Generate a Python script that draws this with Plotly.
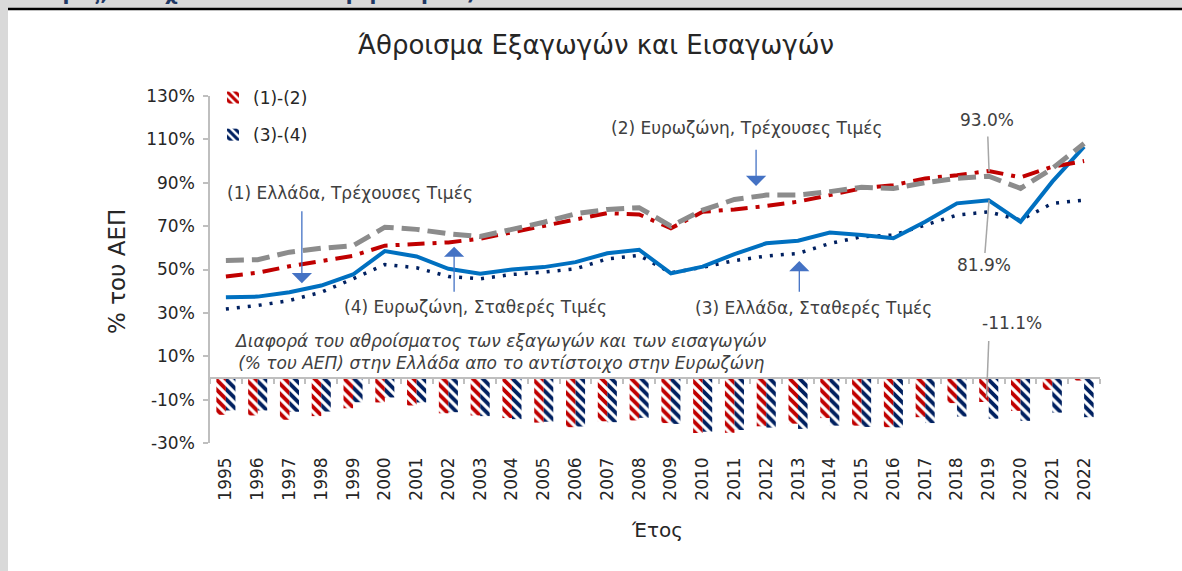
import plotly.graph_objects as go

W, H = 1182, 571

years = list(range(1995, 2023))
year_labels = [str(y) for y in years]

# (1) Greece, current prices (% of GDP)
greece_current = [37.2, 37.5, 39.5, 42.6, 47.7, 58.5, 56.0, 50.3, 48.0, 50.0, 51.1, 53.4, 57.5, 59.1,
                  48.2, 51.3, 57.1, 62.1, 63.3, 67.0, 65.9, 64.4, 72.0, 80.5, 81.9, 72.0, 90.5, 106.6]
# (2) Euro area, current prices
euro_current = [54.2, 54.5, 58.0, 59.8, 61.0, 69.5, 68.5, 66.5, 65.2, 68.3, 71.8, 75.7, 77.7, 78.5,
                70.0, 77.4, 82.3, 84.3, 84.3, 85.9, 87.9, 87.4, 90.0, 92.0, 93.0, 87.4, 96.6, 108.1]
# (3) Greece, constant prices
greece_constant = [31.8, 33.4, 35.7, 39.5, 45.7, 52.3, 50.8, 46.8, 45.7, 47.7, 48.8, 50.3, 54.9, 56.5,
                   48.5, 51.0, 54.1, 56.2, 57.4, 62.0, 65.1, 65.9, 70.5, 75.1, 76.6, 72.8, 80.5, 82.0]
# (4) Euro area, constant prices
euro_constant = [46.8, 48.5, 51.5, 54.0, 56.3, 61.0, 61.8, 62.5, 64.2, 67.2, 70.3, 73.4, 76.0, 75.4,
                 69.0, 76.6, 77.7, 79.3, 81.3, 84.3, 87.4, 88.9, 92.0, 93.5, 95.4, 92.5, 97.4, 100.0]
# (1)-(2)
diff_12 = [-17.0, -17.3, -19.3, -17.6, -14.0, -11.3, -12.7, -16.3, -17.3, -18.5, -20.6, -22.7, -20.0, -19.6,
           -20.8, -25.4, -25.3, -22.3, -21.1, -18.5, -22.0, -22.7, -18.1, -11.6, -11.1, -15.2, -5.5, -1.2]
# (3)-(4)
diff_34 = [-15.0, -15.0, -15.6, -15.5, -11.2, -9.0, -11.3, -15.8, -17.6, -19.0, -20.2, -22.4, -20.4, -18.4,
           -21.2, -24.8, -24.0, -22.9, -23.5, -22.0, -22.6, -22.8, -20.8, -17.8, -18.8, -19.8, -16.0, -18.1]

bar_names = ["(1)-(2)", "(3)-(4)"]
callouts = ["93.0%", "81.9%", "-11.1%"]
y_ticks = [-30, -10, 10, 30, 50, 70, 90, 110, 130]
y_tick_labels = [f"{v}%" for v in y_ticks]

FONT = "DejaVu Sans"
TXT = "#404040"


def px(x):
    return x / W


def py(y):
    return 1 - y / H


fig = go.Figure()

fig.add_trace(go.Bar(
    x=years, y=diff_12, name=bar_names[0], legendgroup="a",
    marker=dict(color="white", line=dict(width=0),
                pattern=dict(shape="\\", fgcolor="#C00000", bgcolor="white", size=7, solidity=0.55,
                             fgopacity=1)),
))
fig.add_trace(go.Bar(
    x=years, y=diff_34, name=bar_names[1], legendgroup="b",
    marker=dict(color="white", line=dict(width=0),
                pattern=dict(shape="\\", fgcolor="#002060", bgcolor="white", size=7, solidity=0.55,
                             fgopacity=1)),
))

fig.add_trace(go.Scatter(x=years, y=greece_constant, mode="lines", showlegend=False,
                         line=dict(color="#002060", width=3.5, dash="3px,8px")))
fig.add_trace(go.Scatter(x=years, y=greece_current, mode="lines", showlegend=False,
                         line=dict(color="#0070C0", width=4)))
fig.add_trace(go.Scatter(x=years, y=euro_constant, mode="lines", showlegend=False,
                         line=dict(color="#C00000", width=4, dash="17px,8px,4px,8px")))
fig.add_trace(go.Scatter(x=years, y=euro_current, mode="lines", showlegend=False,
                         line=dict(color="#8C8C8C", width=5, dash="18px,8px")))

xdom = [px(210), px(1100)]
ydom = [py(443), py(96)]
xr = [1994.5, 2022.5]


def note(text, x, y, size, color=TXT, **kw):
    d = dict(text=text, x=px(x), y=py(y), xref="paper", yref="paper", showarrow=False,
             xanchor="center", yanchor="middle", font=dict(size=size, color=color, family=FONT))
    d.update(kw)
    return d


annotations = []
annotations.append(note("Άθροισμα Εξαγωγών και Εισαγωγών", 596, 45, 26, "#262626"))
annotations.append(note("% του ΑΕΠ", 117, 272, 23, "#262626", textangle=-90))
annotations.append(note("Έτος", 657, 530, 20, "#262626"))
# cropped header text of the document
annotations.append(dict(text="<b>τιμές, στοιχεία εθνικών λογαριασμών)</b>", x=px(40), y=py(6.5), xref="paper",
                        yref="paper", xanchor="left", yanchor="bottom", showarrow=False,
                        font=dict(size=20, color="#1F3864", family=FONT)))

labels = [
    ("(1) Ελλάδα, Τρέχουσες Τιμές", 350, 193),
    ("(4) Ευρωζώνη, Σταθερές Τιμές", 475, 307),
    ("(2) Ευρωζώνη, Τρέχουσες Τιμές", 747, 128),
    ("(3) Ελλάδα, Σταθερές Τιμές", 813, 308),
]
for t, x, y in labels:
    annotations.append(note(t, x, y, 17))

annotations.append(note("<i>Διαφορά του αθροίσματος των εξαγωγών και των εισαγωγών<br>"
                        "(% του ΑΕΠ) στην Ελλάδα απο το αντίστοιχο στην Ευρωζώνη</i>", 500, 352, 17))

for t, x, y in zip(callouts, [987, 984, 1012], [120, 265, 323]):
    annotations.append(note(t, x, y, 17))

# arrows (head, tail) in data coordinates
arrows = [
    ((1997.39, 43.7), (1997.39, 77.5)),
    ((2011.68, 88.5), (2011.68, 105.9)),
    ((2002.18, 60.5), (2002.18, 39.0)),
    ((2013.04, 53.9), (2013.04, 39.0)),
]
for (hx, hy), (tx, ty) in arrows:
    annotations.append(dict(text="", x=hx, y=hy, ax=tx, ay=ty, xref="x", yref="y", axref="x", ayref="y",
                            showarrow=True, arrowhead=1, arrowsize=2.6, arrowwidth=1.3, arrowcolor="#4472C4"))

shapes = []
shapes.append(dict(type="rect", xref="paper", yref="paper", x0=0, x1=px(8), y0=0, y1=1,
                   fillcolor="#D9D9D9", line=dict(width=0), layer="below"))
shapes.append(dict(type="rect", xref="paper", yref="paper", x0=0, x1=1, y0=py(8), y1=1,
                   fillcolor="#D9D9D9", line=dict(width=0), layer="below"))
shapes.append(dict(type="line", xref="paper", yref="paper", x0=px(8), x1=1, y0=py(9), y1=py(9),
                   line=dict(color="black", width=2.5)))
leaders = [((2018.97, 111.3), (2019.01, 95.2)),
           ((2019.01, 82.1), (2018.88, 57.6)),
           ((2019.0, 17.0), (2018.93, -9.0))]
for (x0, y0), (x1, y1) in leaders:
    shapes.append(dict(type="line", xref="x", yref="y", x0=x0, y0=y0, x1=x1, y1=y1,
                       line=dict(color="#A6A6A6", width=1.5)))

fig.update_layout(
    width=W, height=H,
    margin=dict(l=0, r=0, t=0, b=0, autoexpand=False),
    paper_bgcolor="white", plot_bgcolor="white",
    font=dict(family=FONT, color="#262626"),
    barmode="group", bargap=0.4, bargroupgap=0.0,
    xaxis=dict(domain=xdom, range=xr, tickmode="array", tickvals=years, ticktext=year_labels,
               tickangle=-90, showgrid=False, showline=False, zeroline=False, ticks="",
               automargin=False, ticklabelstandoff=10, tickfont=dict(size=17, color="#262626", family=FONT)),
    xaxis2=dict(domain=xdom, range=xr, overlaying="x", anchor="free", position=py(378), side="bottom",
                showline=True, linecolor="#BFBFBF", linewidth=1.5, ticks="outside", ticklen=5,
                tickcolor="#BFBFBF", tickwidth=1.5, tickmode="array", automargin=False,
                tickvals=[y - 0.5 for y in years] + [years[-1] + 0.5],
                showticklabels=False, showgrid=False, zeroline=False),
    yaxis=dict(domain=ydom, range=[-30, 130], tickmode="array", tickvals=y_ticks, ticktext=y_tick_labels,
               showgrid=False, zeroline=False, showline=True, linecolor="#BFBFBF", linewidth=1.5,
               ticks="outside", ticklen=5, tickcolor="#BFBFBF", tickwidth=1.5, ticklabelstandoff=5,
               automargin=False, tickfont=dict(size=17, color="#262626", family=FONT)),
    legend=dict(x=px(213), y=py(80), xanchor="left", yanchor="top", bgcolor="rgba(0,0,0,0)",
                font=dict(size=17, color="#262626", family=FONT), tracegroupgap=12, itemwidth=30),
    annotations=annotations,
    shapes=shapes,
)

fig.add_trace(go.Scatter(x=[xr[0]], y=[0], xaxis="x2", mode="markers", marker=dict(opacity=0),
                         showlegend=False, hoverinfo="skip"))

fig.write_html("out.html", config={"displayModeBar": False},
               post_script="document.body.style.margin='0';document.body.style.overflow='hidden';")
